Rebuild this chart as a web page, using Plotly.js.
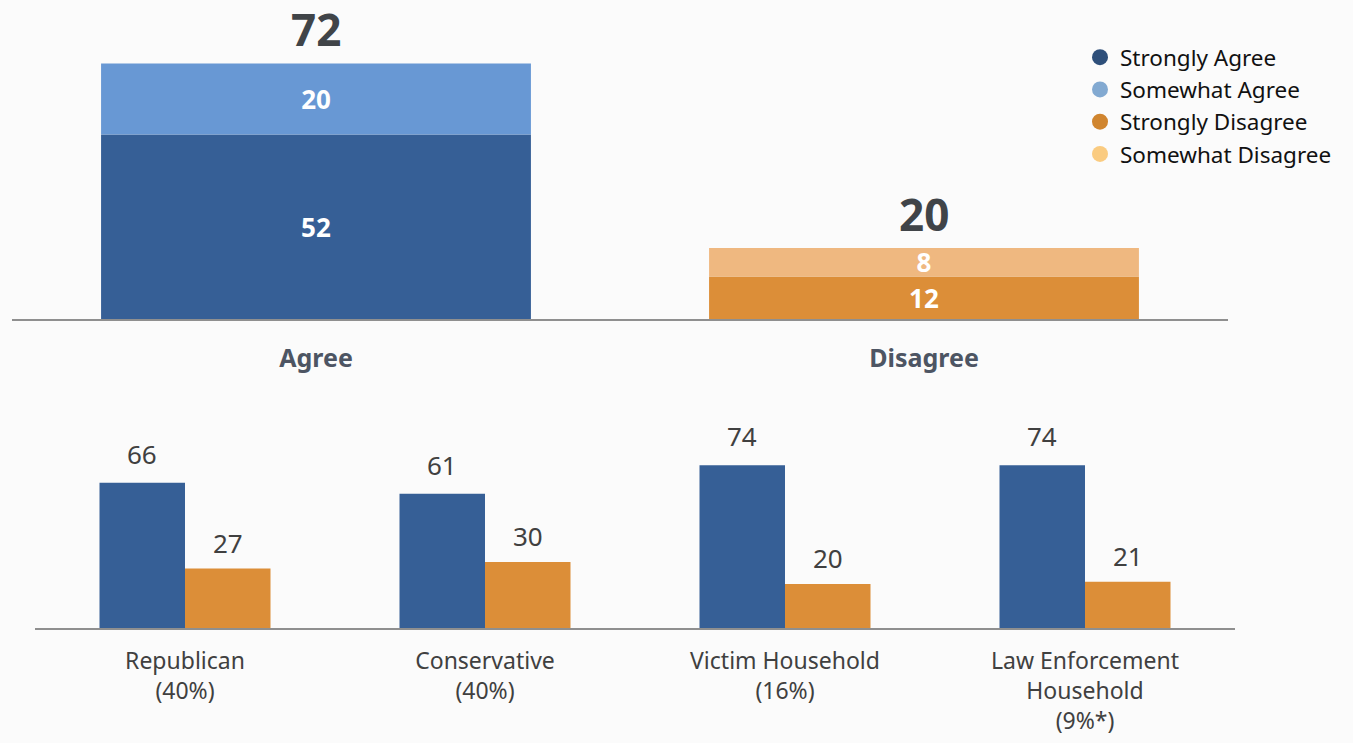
<!DOCTYPE html>
<html>
<head>
<meta charset="utf-8">
<script src="https://cdn.plot.ly/plotly-3.0.1.min.js"></script>
<style>html,body{margin:0;padding:0;background:#fbfbfb;}#chart{width:1353px;height:743px;}</style>
</head>
<body>
<div id="chart"></div>
<script>
// ---- data ----
const topCategories = ['Agree', 'Disagree'];
const stronglyAgree = [52, null];
const somewhatAgree = [20, null];
const stronglyDisagree = [null, 12];
const somewhatDisagree = [null, 8];
const topTotals = [72, 20];

const groupCategories = ['Republican<br>(40%)', 'Conservative<br>(40%)', 'Victim Household<br>(16%)', 'Law Enforcement<br>Household<br>(9%*)'];
const groupAgree = [66, 61, 74, 74];
const groupDisagree = [27, 30, 20, 21];

const legendNames = ['Strongly Agree', 'Somewhat Agree', 'Strongly Disagree', 'Somewhat Disagree'];

// ---- styles ----
const C_SA = '#365F96', C_WA = '#6898D4', C_SD = '#DC8E38', C_WD = '#EFB880';
const L_SA = '#2E4F7A', L_WA = '#82A9D1', L_SD = '#D0852F', L_WD = '#FACB80';
const FONT = 'Noto Sans, Open Sans, sans-serif';
const topW = 0.707, grpW = 0.285;

const insideFont = {family: FONT, size: 26, color: '#ffffff', weight: 'bold'};

function stackBar(y, base, color, name) {
  return {
    type: 'bar', x: topCategories, y: y, base: base, name: name,
    width: topW, marker: {color: color, line: {width: 0}},
    text: y.map(v => v == null ? '' : String(v)),
    textposition: 'inside', insidetextanchor: 'middle', textangle: 0, constraintext: 'none',
    textfont: insideFont, cliponaxis: false,
    xaxis: 'x', yaxis: 'y', showlegend: false, hoverinfo: 'skip'
  };
}

const traces = [
  stackBar(stronglyAgree, null, C_SA, legendNames[0]),
  stackBar(somewhatAgree, stronglyAgree.map(v => v == null ? null : v), C_WA, legendNames[1]),
  stackBar(stronglyDisagree, null, C_SD, legendNames[2]),
  stackBar(somewhatDisagree, stronglyDisagree.map(v => v == null ? null : v), C_WD, legendNames[3]),
  {
    type: 'bar', x: groupCategories, y: groupAgree, width: grpW, offset: -grpW,
    marker: {color: C_SA}, xaxis: 'x2', yaxis: 'y2', showlegend: false, hoverinfo: 'skip'
  },
  {
    type: 'bar', x: groupCategories, y: groupDisagree, width: grpW, offset: 0,
    marker: {color: C_SD}, xaxis: 'x2', yaxis: 'y2', showlegend: false, hoverinfo: 'skip'
  }
];

// legend-only circle entries
[L_SA, L_WA, L_SD, L_WD].forEach((c, i) => {
  traces.push({
    type: 'scatter', mode: 'markers', x: [null], y: [null], name: legendNames[i],
    marker: {symbol: 'circle', size: 24, color: c}, xaxis: 'x', yaxis: 'y', showlegend: true
  });
});

const annotations = [];
topTotals.forEach((t, i) => {
  annotations.push({
    xref: 'x', yref: 'y', x: topCategories[i], y: t, yanchor: 'bottom', yshift: 2,
    text: String(t), showarrow: false,
    font: {family: FONT, size: 44, color: '#404448', weight: 'bold'}
  });
});
groupAgree.forEach((v, i) => {
  annotations.push({
    xref: 'x2', yref: 'y2', x: i - grpW / 2, y: v, yanchor: 'bottom', yshift: 9,
    text: String(v), showarrow: false, font: {family: FONT, size: 26, color: '#404040'}
  });
});
groupDisagree.forEach((v, i) => {
  annotations.push({
    xref: 'x2', yref: 'y2', x: i + grpW / 2, y: v, yanchor: 'bottom', yshift: 6,
    text: String(v), showarrow: false, font: {family: FONT, size: 26, color: '#404040'}
  });
});

const H = 743, W = 1353;
const layout = {
  width: W, height: H,
  margin: {l: 0, r: 0, t: 0, b: 0},
  paper_bgcolor: '#fbfbfb', plot_bgcolor: 'rgba(0,0,0,0)',
  barmode: 'overlay',
  font: {family: FONT, color: '#404040'},
  xaxis: {
    domain: [12 / W, 1228 / W], type: 'category', range: [-0.5, 1.5],
    showline: true, linecolor: '#8f8f8f', linewidth: 1.5, showgrid: false, zeroline: false,
    ticks: '', ticklabelstandoff: 16,
    tickfont: {family: FONT, size: 25, color: '#4D5563', weight: 'bold'}
  },
  yaxis: {
    domain: [(H - 319) / H, (H - 35) / H], range: [0, 80], visible: false, fixedrange: true
  },
  xaxis2: {
    domain: [35 / W, 1235 / W], type: 'category', range: [-0.5, 3.5], anchor: 'y2',
    showline: true, linecolor: '#8f8f8f', linewidth: 1.5, showgrid: false, zeroline: false,
    ticks: '', ticklabelstandoff: 12,
    tickfont: {family: FONT, size: 23, color: '#404040'}
  },
  yaxis2: {
    domain: [(H - 628) / H, (H - 430) / H], range: [0, 90], visible: false, anchor: 'x2'
  },
  legend: {
    x: 1080 / W, y: 1 - 36 / H, xanchor: 'left', yanchor: 'top',
    bgcolor: 'rgba(0,0,0,0)', font: {family: FONT, size: 22.5, color: '#111111'},
    itemsizing: 'trace', tracegroupgap: 0, itemwidth: 30
  },
  annotations: annotations
};

Plotly.newPlot('chart', traces, layout, {staticPlot: true, displayModeBar: false});
</script>
</body>
</html>
